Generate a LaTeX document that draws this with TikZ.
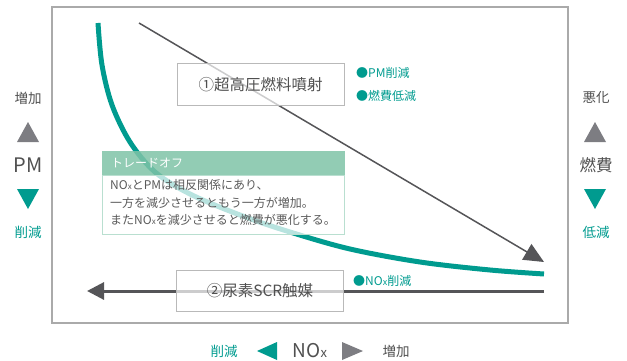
\documentclass[tikz,border=0pt]{standalone}
\usepackage{fontspec}
\setmainfont{Noto Sans CJK JP}
\usetikzlibrary{arrows.meta}
\definecolor{tealc}{RGB}{0,155,143}
\definecolor{darkln}{RGB}{85,85,88}
\definecolor{grtri}{RGB}{125,125,130}
\definecolor{txtc}{RGB}{80,80,80}
\definecolor{bodytxt}{RGB}{90,90,90}
\definecolor{mint}{RGB}{127,195,167}
\definecolor{mintl}{RGB}{185,223,208}
\definecolor{framec}{RGB}{170,170,170}
\definecolor{boxgray}{RGB}{185,185,185}
\newcommand{\smallx}[1]{{\fontsize{#1}{#1}\selectfont x}}
\begin{document}
\begin{tikzpicture}[x=1pt,y=-1pt,
  methodbox/.style={draw=boxgray, line width=1pt, fill=white, fill opacity=0.7, text opacity=1,
    minimum width=167pt, minimum height=42pt, inner sep=0pt, text=txtc,
    font=\fontsize{15.5}{18}\selectfont},
  greenlbl/.style={anchor=west, inner sep=0pt, text=tealc, font=\fontsize{12}{14}\selectfont},
  axlbl/.style={inner sep=0pt, text=txtc, font=\fontsize{13.5}{15}\selectfont},
  axlblg/.style={inner sep=0pt, text=tealc, font=\fontsize{13.5}{15}\selectfont},
  bigax/.style={inner sep=0pt, text=txtc},
  uptri/.style={fill=grtri, draw=none},
  dntri/.style={fill=tealc, draw=none}]
\useasboundingbox (0,0) rectangle (627,361);

% frame
\draw[framec, line width=1.2pt] (52,7) rectangle (568,323);

% connectors
\coordinate (dgS) at (139,23);
\coordinate (dgE) at (544,262);
\coordinate (hS) at (544,291);
\coordinate (hE) at (87,291);
\draw[darkln, line width=1.5pt, -{Triangle[length=20pt,width=18pt]}] (dgS) -- (dgE);
\draw[darkln, line width=3pt, -{Triangle[length=17pt,width=17pt]}] (hS) -- (hE);

% trade-off curve
\draw[tealc, line width=5pt] plot[smooth, tension=0.55] coordinates
  {(98,23) (102,65) (112,105) (130,142) (155,172) (190,194) (240,215) (290,232) (350,249) (420,262) (490,270) (544,274)};

% method boxes
\node[methodbox] (m1) at (260.5,85) {①超高圧燃料噴射};
\node[methodbox, minimum height=41pt] (m2) at (260,290.5) {②尿素SCR触媒};

% green labels
\node[greenlbl] (g1) at (356,73) {●PM削減};
\node[greenlbl] (g2) at (356,96) {●燃費低減};
\node[greenlbl] (g3) at (353,281) {●NO\smallx{9}削減};

% trade-off box
\node[draw=mintl, line width=1pt, fill=white, fill opacity=0.72, minimum width=242pt, minimum height=59pt, inner sep=0pt, anchor=north west] (tbody) at (102,175) {};
\node[fill=mint, fill opacity=0.85, minimum width=243pt, minimum height=24pt, inner sep=0pt, anchor=north west] (thead) at (101.5,151) {};
\node[anchor=west, inner sep=0pt, text=white, font=\fontsize{12}{14}\selectfont] (ttitle) at (111,163.5) {トレードオフ};
\node[anchor=north west, inner sep=0pt, align=left, text=bodytxt, font=\fontsize{12}{17.5}\selectfont] (ttext) at (110,179.5)
  {NO\smallx{8}とPMは相反関係にあり、\\一方を減少させるともう一方が増加。\\またNO\smallx{8}を減少させると燃費が悪化する。};

% left axis (PM)
\node[axlbl] (lup) at (28,98) {増加};
\path[uptri] (17,142) -- (39,142) -- (28,122) -- cycle;
\node[bigax, font=\fontsize{20}{22}\selectfont] (lpm) at (28,165) {PM};
\path[dntri] (17,189) -- (39,189) -- (28,209) -- cycle;
\node[axlblg] (ldn) at (28,232) {削減};

% right axis (fuel)
\node[axlbl] (rup) at (596,97) {悪化};
\path[uptri] (584,142) -- (606,142) -- (595,122) -- cycle;
\node[bigax, font=\fontsize{16.5}{18}\selectfont] (rfuel) at (596,165) {燃費};
\path[dntri] (584,189) -- (606,189) -- (595,209) -- cycle;
\node[axlblg] (rdn) at (596,232) {低減};

% bottom axis (NOx)
\node[axlblg] (bdn) at (224,351) {削減};
\path[dntri] (257,351) -- (277,342) -- (277,360) -- cycle;
\node[bigax, font=\fontsize{19}{21}\selectfont] (bnox) at (310,350.5) {NO\smallx{13}};
\path[uptri] (342,342) -- (342,360) -- (363,351) -- cycle;
\node[axlbl] (bup) at (396,351) {増加};
\end{tikzpicture}
\end{document}
